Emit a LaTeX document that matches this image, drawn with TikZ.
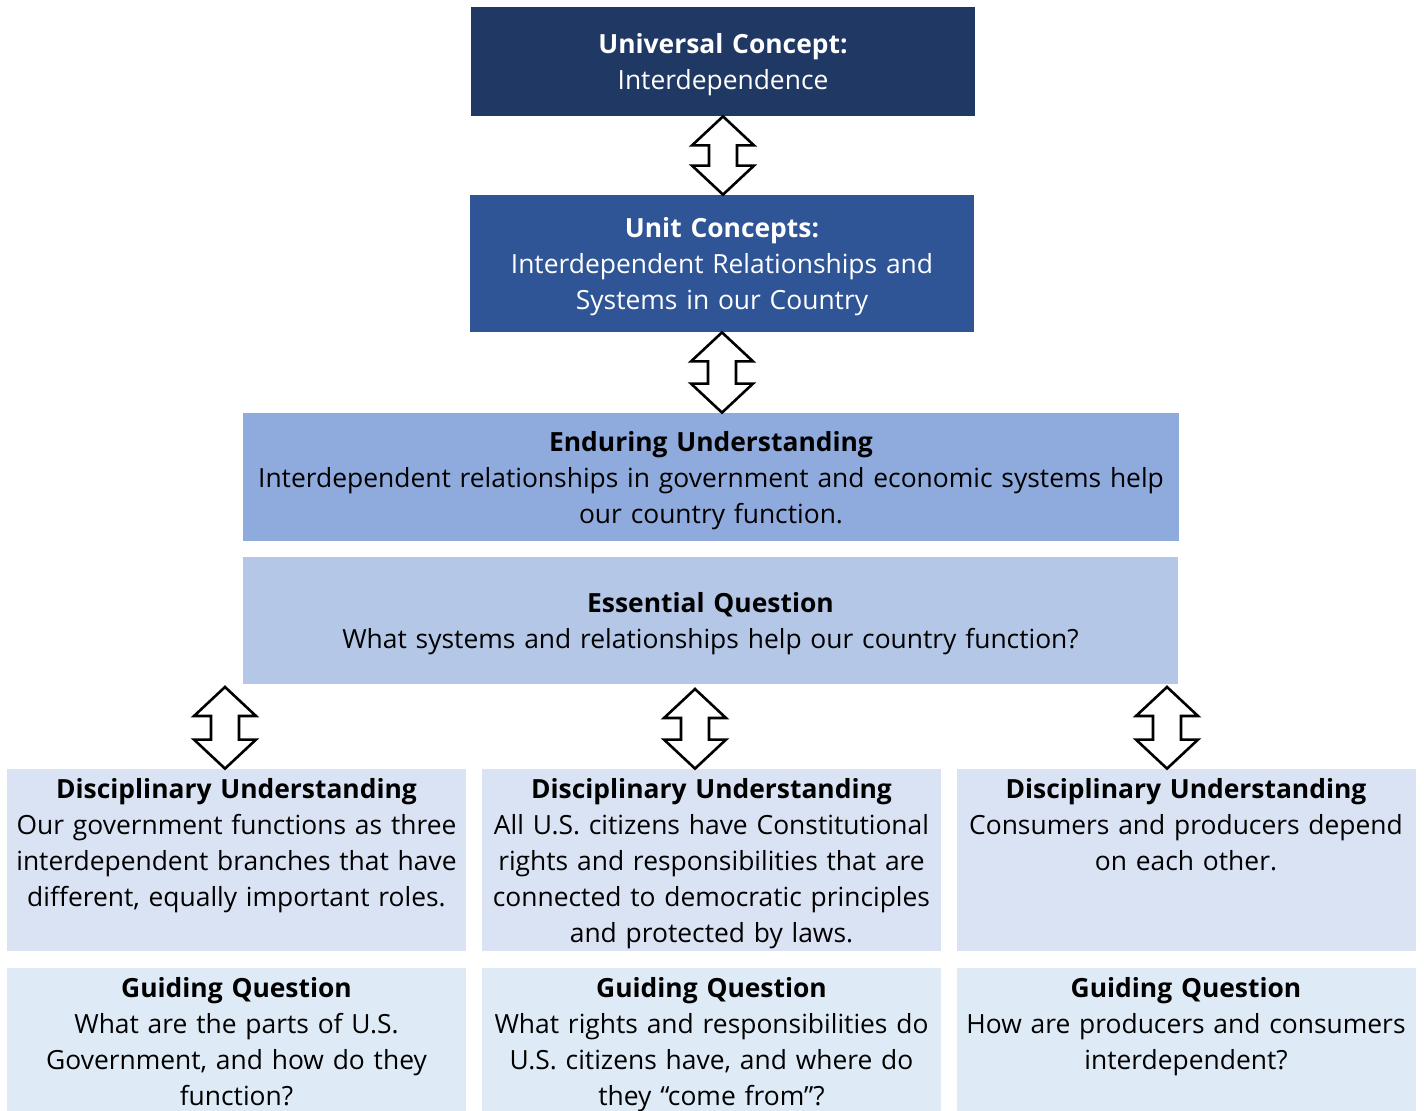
\documentclass[tikz,border=0pt]{standalone}
\usepackage{fontspec}
\setmainfont{Open Sans}
\usetikzlibrary{positioning, calc}
\definecolor{navy}{HTML}{203864}
\definecolor{royal}{HTML}{2F5597}
\definecolor{steel}{HTML}{8FAADC}
\definecolor{pale}{HTML}{B4C7E7}
\definecolor{mist}{HTML}{DAE3F3}
\definecolor{frost}{HTML}{DEEBF7}
\newcommand{\wordstrut}{\rule[-3.9pt]{0pt}{18pt}}
\newcommand{\linkarrow}[2]{%
  \draw[twoway] let \p1=(#1), \p2=(#2) in
    (\x1,\y1) -- (\x1-15.5pt,\y1-14.5pt) -- (\x1-7pt,\y1-14.5pt)
    -- (\x1-7pt,\y2+14.5pt) -- (\x1-15.5pt,\y2+14.5pt) -- (\x1,\y2)
    -- (\x1+15.5pt,\y2+14.5pt) -- (\x1+7pt,\y2+14.5pt)
    -- (\x1+7pt,\y1-14.5pt) -- (\x1+15.5pt,\y1-14.5pt) -- cycle;}

\begin{document}
\begin{tikzpicture}[
      x=0.5pt,y=-0.5pt,
      block/.style={
        inner sep=0pt,
        align=center,
        font=\fontsize{13.2}{18}\selectfont,
        execute at begin node=\wordstrut,
        execute at end node=\wordstrut,
      },
      cell/.style={
        inner sep=0pt,
        minimum width=229.5pt,
        minimum height=91pt,
      },
      celltext/.style={
        block,
        anchor=north,
        text width=228pt,
      },
      twoway/.style={
        draw=black,
        fill=white,
        line width=1.3pt,
        line join=miter,
      },
      ]
      \useasboundingbox (0,0) rectangle (1424,1110);
      \node[block,fill=navy,text=white,text width=252pt,minimum height=54.5pt] (uc) at (723,61.5)
        {\textbf{Universal Concept:}\\Interdependence};
      \node[block,fill=royal,text=white,text width=252pt,minimum height=68.5pt] (unit) at (722,263.5)
        {\textbf{Unit Concepts:}\\Interdependent Relationships and\\Systems in our Country};
      \node[block,fill=steel,text width=468pt,minimum height=64pt] (eu) at (711,477)
        {\textbf{Enduring Understanding}\\Interdependent relationships in government and economic systems help\\our country function.};
      \node[block,fill=pale,text width=467.5pt,minimum height=63.5pt] (eq) at (710.5,620.5)
        {\textbf{Essential Question}\\What systems and relationships help our country function?};
      % disciplinary understandings
      \node[cell,fill=mist] (du1) at (236.5,860) {};
      \node[cell,fill=mist] (du2) at (711.5,860) {};
      \node[cell,fill=mist] (du3) at (1186,860) {};
      \node[celltext] (du1txt) at ([yshift=-0.5pt]du1.north)
        {\textbf{Disciplinary Understanding}\\Our government functions as three\\interdependent branches that have\\different, equally important roles.};
      \node[celltext] (du2txt) at ([yshift=-0.5pt]du2.north)
        {\textbf{Disciplinary Understanding}\\All U.S. citizens have Constitutional\\rights and responsibilities that are\\connected to democratic principles\\and protected by laws.};
      \node[celltext] (du3txt) at ([yshift=-0.5pt]du3.north)
        {\textbf{Disciplinary Understanding}\\Consumers and producers depend\\on each other.};
      % guiding questions
      \node[cell,fill=frost,below=8pt of du1] (gq1) {};
      \node[cell,fill=frost,below=8pt of du2] (gq2) {};
      \node[cell,fill=frost,below=8pt of du3] (gq3) {};
      \node[celltext] (gq1txt) at ([yshift=-0.5pt]gq1.north)
        {\textbf{Guiding Question}\\What are the parts of U.S.\\Government, and how do they\\function?};
      \node[celltext] (gq2txt) at ([yshift=-0.5pt]gq2.north)
        {\textbf{Guiding Question}\\What rights and responsibilities do\\U.S. citizens have, and where do\\they “come from”?};
      \node[celltext] (gq3txt) at ([yshift=-0.5pt]gq3.north)
        {\textbf{Guiding Question}\\How are producers and consumers\\interdependent?};
      % two-way arrows
      \coordinate (a1) at (225,687);
      \coordinate (a2) at (695,689);
      \coordinate (a3) at (1167,687);
      \linkarrow{uc.south}{unit.north}
      \linkarrow{unit.south}{unit.south |- eu.north}
      \linkarrow{a1}{a1 |- du1.north}
      \linkarrow{a2}{a2 |- du2.north}
      \linkarrow{a3}{a3 |- du3.north}
    \end{tikzpicture}
\end{document}
